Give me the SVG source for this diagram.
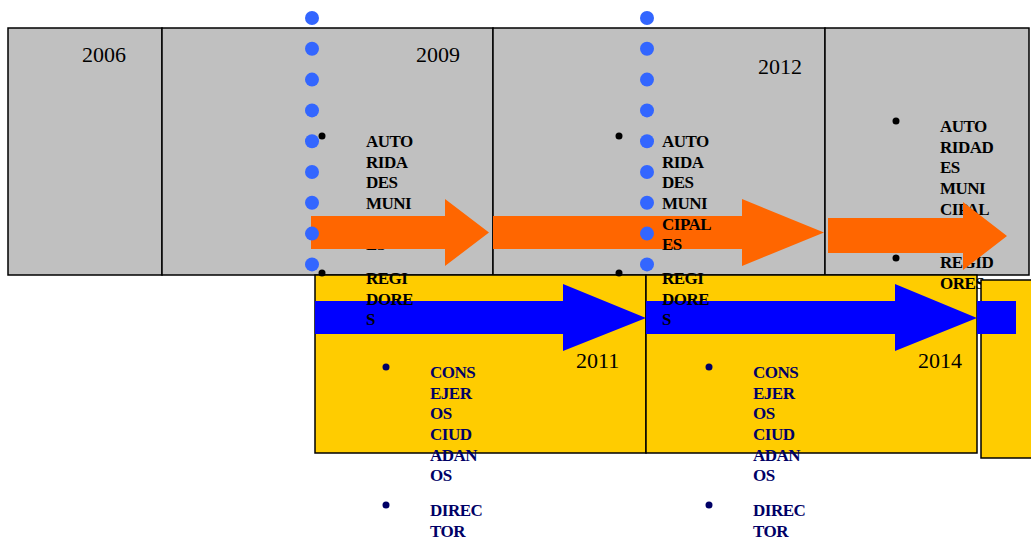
<svg xmlns="http://www.w3.org/2000/svg" width="1031" height="542" viewBox="0 0 1031 542">
<style>
.gray{fill:#C0C0C0;stroke:#000;stroke-width:1.5}
.yel{fill:#FFCC00;stroke:#000;stroke-width:1.5}
.yr{font-family:"Liberation Serif",serif;font-size:22px;fill:#000}
.b{font-family:"Liberation Serif",serif;font-size:17px;font-weight:bold;letter-spacing:-0.5px;fill:#000}
.n{font-family:"Liberation Serif",serif;font-size:17px;font-weight:bold;letter-spacing:-0.5px;fill:#000066}
.or{fill:#FF6600}
.bl{fill:#0000FF}
.dot{fill:#3366FF}
</style>
<g id="gray-row">
<rect class="gray" x="8" y="28" width="154" height="247"/>
<rect class="gray" x="162" y="28" width="331" height="247"/>
<rect class="gray" x="493" y="28" width="332" height="247"/>
<rect class="gray" x="825" y="28" width="204" height="247"/>
<text class="yr" x="82" y="62">2006</text>
<text class="yr" x="416" y="62">2009</text>
<text class="yr" x="758" y="74">2012</text>
</g>
<g id="yellow-row">
<rect class="yel" x="315" y="275" width="331" height="178"/>
<rect class="yel" x="646" y="275" width="331" height="178"/>
<text class="yr" x="576" y="368">2011</text>
<text class="yr" x="918" y="368">2014</text>
</g>
<g id="col3-text">
<circle cx="896" cy="121" r="3.5" fill="#000"/>
<text class="b" x="940" y="132">AUTO</text>
<text class="b" x="940" y="152.7">RIDAD</text>
<text class="b" x="940" y="173.4">ES</text>
<text class="b" x="940" y="194">MUNI</text>
<text class="b" x="940" y="214.7">CIPAL</text>
<text class="b" x="940" y="235.4">ES</text>
<circle cx="896" cy="258" r="3.5" fill="#000"/>
<text class="b" x="940" y="268">REGID</text>
<text class="b" x="940" y="289">ORES</text>
</g>
<g id="right-box">
<rect class="yel" x="981" y="280" width="60" height="178"/>
</g>
<g id="connectors">
<polygon class="bl" points="315,301 563,301 563,284 646,318 563,351 563,334 315,334"/>
<polygon class="bl" points="646,301 895,301 895,284 977,318 895,351 895,334 646,334"/>
<rect class="bl" x="977" y="301" width="39" height="33"/>
<polygon class="or" points="828,218 963,218 963,202 1007,236 963,270 963,253 828,253"/>
</g>
<g id="col1-text">
<text class="b" x="366" y="147">AUTO</text>
<text class="b" x="366" y="167.7">RIDA</text>
<text class="b" x="366" y="188.4">DES</text>
<text class="b" x="366" y="209">MUNI</text>
<text class="b" x="366" y="229.7">CIPAL</text>
<text class="b" x="366" y="250.4">ES</text>
<text class="b" x="366" y="284">REGI</text>
<text class="b" x="366" y="304.7">DORE</text>
<text class="b" x="366" y="325.4">S</text>
</g>
<g id="orange-arrows">
<polygon class="or" points="311,216 445,216 445,199 489,232.5 445,266 445,249 311,249"/>
<polygon class="or" points="493,216 742,216 742,199 824,232.5 742,266 742,249 493,249"/>
</g>
<g id="col2-text">
<text class="b" x="662" y="147">AUTO</text>
<text class="b" x="662" y="167.7">RIDA</text>
<text class="b" x="662" y="188.4">DES</text>
<text class="b" x="662" y="209">MUNI</text>
<text class="b" x="662" y="229.7">CIPAL</text>
<text class="b" x="662" y="250.4">ES</text>
<text class="b" x="662" y="284">REGI</text>
<text class="b" x="662" y="304.7">DORE</text>
<text class="b" x="662" y="325.4">S</text>
</g>
<g id="dots">
<circle class="dot" cx="312" cy="18" r="7"/>
<circle class="dot" cx="312" cy="48.8" r="7"/>
<circle class="dot" cx="312" cy="79.6" r="7"/>
<circle class="dot" cx="312" cy="110.4" r="7"/>
<circle class="dot" cx="312" cy="141.2" r="7"/>
<circle class="dot" cx="312" cy="172" r="7"/>
<circle class="dot" cx="312" cy="202.8" r="7"/>
<circle class="dot" cx="312" cy="233.6" r="7"/>
<circle class="dot" cx="312" cy="264.4" r="7"/>
<circle class="dot" cx="647" cy="18" r="7"/>
<circle class="dot" cx="647" cy="48.8" r="7"/>
<circle class="dot" cx="647" cy="79.6" r="7"/>
<circle class="dot" cx="647" cy="110.4" r="7"/>
<circle class="dot" cx="647" cy="141.2" r="7"/>
<circle class="dot" cx="647" cy="172" r="7"/>
<circle class="dot" cx="647" cy="202.8" r="7"/>
<circle class="dot" cx="647" cy="233.6" r="7"/>
<circle class="dot" cx="647" cy="264.4" r="7"/>
</g>
<g id="bullets">
<circle cx="322" cy="136" r="3.5" fill="#000"/>
<circle cx="322" cy="273" r="3.5" fill="#000"/>
<circle cx="619" cy="136" r="3.5" fill="#000"/>
<circle cx="619" cy="273" r="3.5" fill="#000"/>
</g>
<g id="col1-lower">
<circle cx="386" cy="367" r="3.5" fill="#000066"/>
<text class="n" x="430" y="378">CONS</text>
<text class="n" x="430" y="398.7">EJER</text>
<text class="n" x="430" y="419.4">OS</text>
<text class="n" x="430" y="440">CIUD</text>
<text class="n" x="430" y="460.7">ADAN</text>
<text class="n" x="430" y="481.4">OS</text>
<circle cx="386" cy="505" r="3.5" fill="#000066"/>
<text class="n" x="430" y="516">DIREC</text>
<text class="n" x="430" y="536.7">TOR</text>
</g>
<g id="col2-lower">
<circle cx="709" cy="367" r="3.5" fill="#000066"/>
<text class="n" x="753" y="378">CONS</text>
<text class="n" x="753" y="398.7">EJER</text>
<text class="n" x="753" y="419.4">OS</text>
<text class="n" x="753" y="440">CIUD</text>
<text class="n" x="753" y="460.7">ADAN</text>
<text class="n" x="753" y="481.4">OS</text>
<circle cx="709" cy="505" r="3.5" fill="#000066"/>
<text class="n" x="753" y="516">DIREC</text>
<text class="n" x="753" y="536.7">TOR</text>
</g>
</svg>
